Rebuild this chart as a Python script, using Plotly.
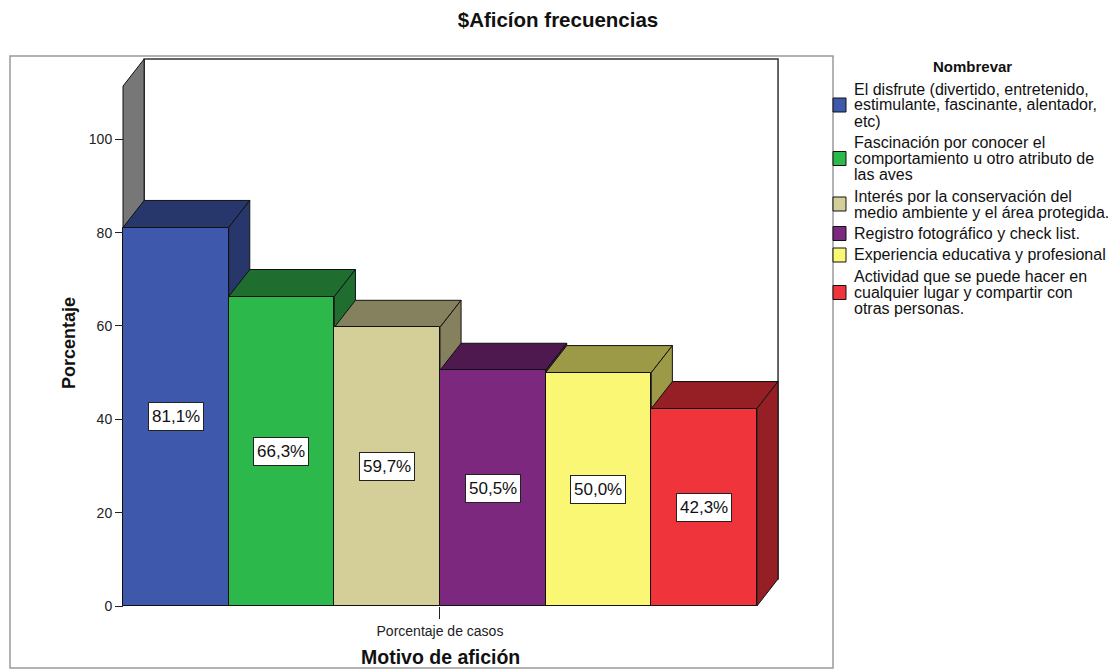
import plotly.graph_objects as go

# ---------------- data ----------------
categories = [
    "El disfrute (divertido, entretenido,<br>estimulante, fascinante, alentador,<br>etc)",
    "Fascinación por conocer el<br>comportamiento u otro atributo de<br>las aves",
    "Interés por la conservación del<br>medio ambiente y el área protegida.",
    "Registro fotográfico y check list.",
    "Experiencia educativa y profesional",
    "Actividad que se puede hacer en<br>cualquier lugar y compartir con<br>otras personas.",
]
values = [81.1, 66.3, 59.7, 50.5, 50.0, 42.3]
front_colors = ["#3E58AC", "#2DB84B", "#D4CF98", "#7C287E", "#FAF775", "#F0343B"]
shade_colors = ["#27366B", "#1F6E2F", "#85815F", "#4D194E", "#9C9A47", "#951F24"]
x_tick_labels = ["Porcentaje de casos"]
y_tick_values = [0, 20, 40, 60, 80, 100]

title_text = "$Aficíon frecuencias"
legend_title = "Nombrevar"
x_title = "Motivo de afición"
y_title = "Porcentaje"

# ---------------- layout geometry (pixels of the target picture) ----------------
OFF = 8                            # page body margin of the browser
W, H = 1116 - OFF, 669 - OFF
PX_X0, PX_PER_X = 123, 105.65      # pixel of x=0, px per category
PX_Y0, PX_PER_Y = 606, 4.667       # pixel of y=0, px per percent
plot_left, plot_right, plot_top, plot_bottom = 118, 783, 54, 609
x_range = [(plot_left - PX_X0) / PX_PER_X, (plot_right - PX_X0) / PX_PER_X]
y_range = [(PX_Y0 - plot_bottom) / PX_PER_Y, (PX_Y0 - plot_top) / PX_PER_Y]
DEPTH_X, DEPTH_Y = 0.2, 5.8        # 3D offset in data units
WALL_TOP = 111.4
n = len(values)
FONT = "Arial, Liberation Sans, sans-serif"


def pxx(px):
    return (px - plot_left) / (plot_right - plot_left)


def pxy(py):
    return (plot_bottom - py) / (plot_bottom - plot_top)


shapes = []
# outer frame
shapes.append(dict(type="rect", xref="paper", yref="paper",
                   x0=pxx(10), x1=pxx(833), y0=pxy(668), y1=pxy(56),
                   line=dict(color="#9a9a9a", width=1.5), fillcolor="rgba(0,0,0,0)",
                   layer="below"))
# back wall
shapes.append(dict(type="rect", xref="x", yref="y",
                   x0=DEPTH_X, x1=n + DEPTH_X, y0=DEPTH_Y, y1=WALL_TOP + DEPTH_Y,
                   line=dict(color="#333333", width=1.5), fillcolor="white", layer="below"))
# left side wall
shapes.append(dict(type="path", xref="x", yref="y",
                   path=f"M0,0 L0,{WALL_TOP} L{DEPTH_X},{WALL_TOP + DEPTH_Y} L{DEPTH_X},{DEPTH_Y} Z",
                   line=dict(color="#111111", width=1), fillcolor="#777777", layer="below"))

# bar tops and sides
for i, (v, sc) in enumerate(zip(values, shade_colors)):
    top = (f"M{i},{v} L{i + 1},{v} L{i + 1 + DEPTH_X},{v + DEPTH_Y} "
           f"L{i + DEPTH_X},{v + DEPTH_Y} Z")
    side = (f"M{i + 1},0 L{i + 1},{v} L{i + 1 + DEPTH_X},{v + DEPTH_Y} "
            f"L{i + 1 + DEPTH_X},{DEPTH_Y} Z")
    for p in (top, side):
        shapes.append(dict(type="path", xref="x", yref="y", path=p,
                           line=dict(color="#111111", width=1), fillcolor=sc,
                           layer="below"))

fig = go.Figure()
for i, (cat, v, fc) in enumerate(zip(categories, values, front_colors)):
    fig.add_trace(go.Bar(
        x=[i + 0.5], y=[v], width=1, name=cat.replace("<br>", " "),
        marker=dict(color=fc, line=dict(color="#111111", width=1)),
        showlegend=False, hoverinfo="skip"))

annotations = []
# value labels
for i, v in enumerate(values):
    annotations.append(dict(
        x=i + 0.5, y=v / 2, xref="x", yref="y", showarrow=False,
        xanchor="center", yanchor="middle", height=21,
        text=f"{v:.1f}%".replace(".", ","),
        font=dict(family=FONT, size=17, color="#111111"),
        bgcolor="white", bordercolor="#222222", borderwidth=1, borderpad=3))

# axis titles
annotations.append(dict(x=pxx(69), y=pxy(343), xref="paper", yref="paper",
                        xanchor="center", yanchor="middle",
                        text=y_title, textangle=-90, showarrow=False,
                        font=dict(family=FONT, size=18, color="#111111", weight="bold")))
annotations.append(dict(x=pxx(440), y=pxy(657), xref="paper", yref="paper",
                        xanchor="center", yanchor="middle",
                        text=x_title, showarrow=False,
                        font=dict(family=FONT, size=19.5, color="#111111", weight="bold")))

# manual legend
annotations.append(dict(x=pxx(972), y=pxy(67), xref="paper", yref="paper",
                        xanchor="center", yanchor="middle",
                        text=legend_title, showarrow=False,
                        font=dict(family=FONT, size=15, color="#111111", weight="bold")))
line_count = 0
for k, (cat, fc) in enumerate(zip(categories, front_colors)):
    lines = cat.split("<br>")
    ys = []
    for j, ln in enumerate(lines):
        py = 89 + 16 * (line_count + j) + 5.5 * k
        ys.append(py)
        annotations.append(dict(x=pxx(852), y=pxy(py), xref="paper", yref="paper",
                                xanchor="left", yanchor="middle", text=ln, showarrow=False,
                                font=dict(family=FONT, size=16, color="#111111")))
    cy = (ys[0] + ys[-1]) / 2
    shapes.append(dict(type="rect", xref="paper", yref="paper",
                       x0=pxx(833), x1=pxx(846), y0=pxy(cy + 7), y1=pxy(cy - 7),
                       fillcolor=fc, line=dict(color="#111111", width=1), layer="above"))
    line_count += len(lines)

fig.update_layout(
    width=W, height=H,
    margin=dict(l=plot_left - OFF, r=W - (plot_right - OFF),
                t=plot_top - OFF, b=H - (plot_bottom - OFF)),
    paper_bgcolor="white", plot_bgcolor="white",
    barmode="overlay", bargap=0,
    title=dict(text=title_text, x=(558 - OFF) / W, xref="container",
               y=1 - (20 - OFF) / H, yref="container",
               xanchor="center", yanchor="middle",
               font=dict(family=FONT, size=20.5, color="#111111", weight="bold")),
    xaxis=dict(range=x_range, tickvals=[n / 2], ticktext=x_tick_labels,
               ticks="outside", ticklen=12, tickcolor="#222222", tickwidth=1,
               showgrid=False, zeroline=False, showline=False,
               anchor="free", position=pxy(PX_Y0),
               tickfont=dict(family=FONT, size=14, color="#222222")),
    yaxis=dict(range=y_range, tickvals=y_tick_values,
               ticks="outside", ticklen=8, tickcolor="#222222", tickwidth=1,
               showgrid=False, zeroline=False, showline=False,
               anchor="free", position=pxx(PX_X0),
               tickfont=dict(family=FONT, size=14, color="#222222")),
    shapes=shapes, annotations=annotations,
)

fig.write_html("out.html")
